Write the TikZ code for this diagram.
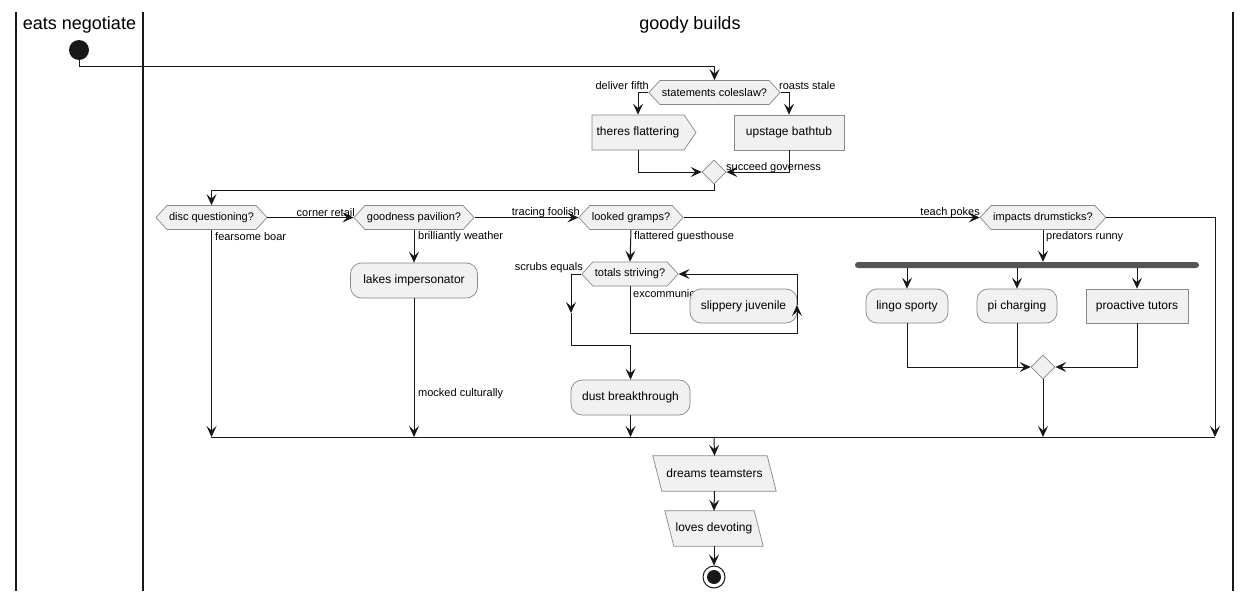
\documentclass[tikz,border=0pt]{standalone}
\usepackage{fontspec}
\setmainfont{Liberation Sans}
\usetikzlibrary{shapes.geometric,shapes.symbols,arrows.meta}
\definecolor{boxfill}{HTML}{F1F1F1}
\definecolor{boxline}{HTML}{888888}
\definecolor{ink}{HTML}{181818}
\definecolor{barcol}{HTML}{555555}
\pgfdeclarelayer{bg}
\pgfsetlayers{bg,main}
\begin{document}
\begin{tikzpicture}[x=1pt,y=-1pt,
  line/.style={draw=ink, line width=1pt},
  arr/.style={line, -{Stealth[length=11pt,width=10pt,inset=4.5pt]}},
  box/.style={draw=boxline, fill=boxfill, line width=0.7pt, font=\fontsize{12}{14}\selectfont, minimum height=35pt, inner sep=0pt},
  rbox/.style={box, rounded corners=11pt},
  flagbox/.style={box, signal, signal to=east, signal from=nowhere, signal pointer angle=111},
  iotext/.style={font=\fontsize{12}{14}\selectfont, minimum height=35pt, inner sep=0pt},
  iodraw/.style={draw=boxline, fill=boxfill, line width=0.7pt},
  hex/.style={draw=boxline, fill=boxfill, line width=0.7pt, signal, signal to=east and west, signal pointer angle=95, font=\fontsize{11}{13}\selectfont, minimum height=24pt, inner xsep=2pt, inner ysep=0pt},
  merge/.style={draw=boxline, fill=boxfill, line width=0.7pt, diamond, minimum width=24pt, minimum height=24pt, inner sep=0pt},
  lbl/.style={font=\fontsize{11}{13}\selectfont, inner sep=0pt, text=black},
  lane/.style={draw=ink, line width=1.5pt},
  title/.style={font=\fontsize{18}{21}\selectfont, inner sep=0pt}
]
\useasboundingbox (0,0) rectangle (1252,599);
\begin{pgfonlayer}{bg}
\fill[white] (0,0) rectangle (1252,599);
\end{pgfonlayer}
% lanes
\draw[lane] (16,12) -- (16,591);
\draw[lane] (143,12) -- (143,591);
\draw[lane] (1233,12) -- (1233,591);
\node[title] (t1) at (79.5,25) {eats negotiate};
\node[title] (t2) at (690,25) {goody builds};

% start
\node[circle, fill=ink, minimum size=20pt, inner sep=0pt] (s) at (79,50) {};

% first decision
\node[hex, minimum width=127pt] (d1) at (714.5,92.5) {statements coleslaw?};
\node[flagbox, minimum width=104pt] (a1) at (638,132.5) {theres flattering};
\node[box, minimum width=110pt] (a2) at (789,132.5) {upstage bathtub};
\node[merge] (m1) at (714,172) {};

\draw[arr] (s.south) -- ++(0,6) -| (d1.north);
\draw[arr] (d1.west) -| (a1.north);
\draw[arr] (d1.east) -| (a2.north);
\node[lbl, anchor=east] (l1) at (649,86) {deliver fifth};
\node[lbl, anchor=west] (l2) at (779,86) {roasts stale};
\draw[arr] (a1.south) |- (m1.west);
\draw[arr] (a2.south) |- (m1.east);
\node[lbl, anchor=west] (l3) at (726,168) {succeed governess};

% row of decisions
\node[hex, minimum width=107pt] (q1) at (211.5,217.5) {disc questioning?};
\node[hex, minimum width=116pt] (q2) at (414,217.5) {goodness pavilion?};
\node[hex, minimum width=98pt] (q3) at (631,217.5) {looked gramps?};
\node[hex, minimum width=122pt] (q4) at (1043,217.5) {impacts drumsticks?};

\draw[arr] (m1.south) -- ++(0,6) -| (q1.north);
\draw[arr] (q1.east) -- (q2.west);
\draw[arr] (q2.east) -- (q3.west);
\draw[arr] (q3.east) -- (q4.west);
\node[lbl, anchor=east] (l4) at (355,212.5) {corner retail};
\node[lbl, anchor=east] (l5) at (580,212.5) {tracing foolish};
\node[lbl, anchor=east] (l6) at (980,212.5) {teach pokes};
\node[lbl, anchor=west] (l7) at (215,237) {fearsome boar};
\node[lbl, anchor=west] (l8) at (418,237) {brilliantly weather};
\node[lbl, anchor=west] (l9) at (634,237) {flattered guesthouse};
\node[lbl, anchor=west] (l10) at (1046,237) {predators runny};

% merge line
\coordinate (mL) at (211,437);
\coordinate (mR) at (1215,437);
\coordinate (mC) at (714,437);
\draw[line] (mL) -- (mR);

% goodness branch
\node[rbox, minimum width=127pt] (a3) at (414,280.5) {lakes impersonator};
\draw[arr] (q2.south) -- (a3.north);
\node[lbl, anchor=west] (l11) at (418,394) {mocked culturally};

% looked branch
\node[hex, minimum width=92pt] (q5) at (630,274) {totals striving?};
\draw[arr] (q3.south) -- (q5.north);
\node[lbl, anchor=east] (l12) at (583,268) {scrubs equals};
\node[lbl, anchor=west] (l13) at (633,294) {excommunic};
\node[rbox, minimum width=107pt, minimum height=34pt] (a4) at (743.5,306) {slippery juvenile};
\node[rbox, minimum width=119pt] (a5) at (630.5,397.5) {dust breakthrough};
\coordinate (c1) at (571,313);
\coordinate (c2) at (797,305);
\draw[arr] (q5.west) -| (c1);
\draw[arr] (c1) -- ++(0,32) -| (a5.north);
\draw[arr] (q5.south) -- ++(0,47) -| (c2);
\draw[arr] (c2) |- (q5.east);

% impacts branch
\node[rectangle, fill=barcol, rounded corners=3pt, minimum width=344pt, minimum height=6pt, inner sep=0pt] (bar) at (1027,265) {};
\draw[arr] (q4.south) -- (q4.south |- bar.north);
\node[rbox, minimum width=82pt, minimum height=34pt] (b1) at (907,306) {lingo sporty};
\node[rbox, minimum width=80pt, minimum height=34pt] (b2) at (1017,306) {pi charging};
\node[box, minimum width=102pt, minimum height=34pt] (b3) at (1137,306) {proactive tutors};
\draw[arr] (bar.south -| b1.north) -- (b1.north);
\draw[arr] (bar.south -| b2.north) -- (b2.north);
\draw[arr] (bar.south -| b3.north) -- (b3.north);
\node[merge] (m3) at (1043,367) {};
\draw[arr] (b1.south) |- (m3.west);
\draw[line] (b2.south) -- (b2.south |- m3.west);
\draw[arr] (b3.south) |- (m3.east);

% into merge line
\draw[arr] (q1.south) -- (q1.south |- mC);
\draw[arr] (a3.south) -- (a3.south |- mC);
\draw[arr] (a5.south) -- (a5.south |- mC);
\draw[arr] (m3.south) -- (m3.south |- mC);
\draw[arr] (q4.east) -| (mR);

% outputs
\node[iotext, minimum width=123pt] (o1) at (714.5,473.5) {dreams teamsters};
\node[iotext, minimum width=98pt] (o2) at (714,528.5) {loves devoting};
\begin{pgfonlayer}{bg}
\draw[iodraw] (o1.north west) -- ([xshift=-9pt]o1.north east) -- (o1.south east) -- ([xshift=9pt]o1.south west) -- cycle;
\draw[iodraw] (o2.north west) -- ([xshift=-9pt]o2.north east) -- (o2.south east) -- ([xshift=9pt]o2.south west) -- cycle;
\end{pgfonlayer}
\draw[arr] (mC) -- (o1.north);
\draw[arr] (o1.south) -- (o2.north);

% end
\node[circle, draw=ink, line width=1pt, fill=white, minimum size=22pt, inner sep=0pt] (e) at (714,577) {};
\node[circle, fill=ink, minimum size=14pt, inner sep=0pt] (ei) at (e.center) {};
\draw[arr] (o2.south) -- (e.north);
\end{tikzpicture}
\end{document}
